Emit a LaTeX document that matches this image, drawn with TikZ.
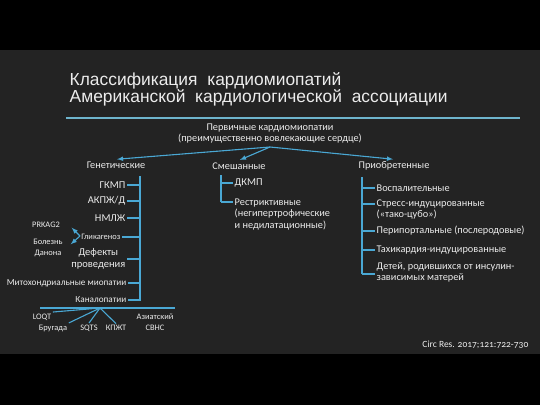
\documentclass[tikz,border=0pt]{standalone}
\usepackage{fontspec}
\setmainfont{Carlito}
\newfontfamily\titlefont{Liberation Sans}
\newfontfamily\citefont[Numbers=OldStyle]{Carlito}
\definecolor{board}{RGB}{35,35,35}
\definecolor{chalk}{RGB}{236,236,236}
\definecolor{chalkblue}{RGB}{74,168,212}
\definecolor{rule}{RGB}{110,180,205}

\begin{document}
\begin{tikzpicture}[x=1pt, y=-1pt,
    every node/.style={text=chalk, inner sep=1.5pt, font=\fontsize{10.3}{11}\selectfont},
    big/.style={font=\fontsize{10.5}{11.5}\selectfont},
    mid/.style={font=\fontsize{9.2}{10}\selectfont},
    small/.style={font=\fontsize{8.4}{10.5}\selectfont},
    group/.style={text height=7.5pt, text depth=2.5pt},
    br/.style={chalkblue, line width=1.1pt},
    arr/.style={chalkblue, line width=1.1pt, -latex, shorten >=1pt}]
    % board
    \fill[black] (0,0) rectangle (540,405);
    \fill[board] (0,50) rectangle (540,354);
    \useasboundingbox (0,0) rectangle (540,405);

    % title and rule
    \node[anchor=base west, font=\titlefont\fontsize{17.4}{20}\selectfont] (title1) at (68,85) {Классификация\ \ кардиомиопатий};
    \node[anchor=base west, font=\titlefont\fontsize{17.4}{20}\selectfont] (title2) at (68,102) {Американской\ \ кардиологической\ \ ассоциации};
    \draw[rule, line width=1.3pt] (66,118) -- (520,118);

    % root and the three groups
    \node[align=center] (prim) at (270,134) {Первичные кардиомиопатии\\(преимущественно вовлекающие сердце)};
    \coordinate (fork) at (270,147);
    \node[group] (gen) at (116,166) {Генетические};
    \node[group] (mix) at (239,167) {Смешанные};
    \node[group] (acq) at (394,166) {Приобретенные};
    \draw[arr] (fork) -- (gen.north);
    \draw[arr] (fork) -- (mix.north);
    \draw[arr] (fork) -- (acq.north);

    % genetic
    \coordinate (gtop) at (140,176);
    \coordinate (gbot) at (140,301);
    \draw[br] (gtop) -- (gbot);
    \node[big, anchor=east] (gkmp) at (127,185) {ГКМП};
    \node[big, anchor=east] (akpzh) at (127,201) {АКПЖ/Д};
    \node[big, anchor=east] (nmlzh) at (127,218) {НМЛЖ};
    \node[small, anchor=east] (glyc) at (122,237) {Гликагеноз};
    \node[big, anchor=east, align=center] (cond) at (127,259) {Дефекты\\проведения};
    \node[mid, anchor=east] (mito) at (128,283) {Митохондриальные миопатии};
    \node[mid, anchor=east] (kanal) at (128,300) {Каналопатии};
    \foreach \n in {gkmp,akpzh,nmlzh,glyc,cond,mito,kanal}
        \draw[br] (\n.east) -- (\n.east -| gtop);

    % glycogenoses
    \node[small] (prkag) at (46,225) {PRKAG2};
    \node[small, align=center] (danon) at (48,248) {Болезнь\\Данона};
    \coordinate (chev) at (80,236);
    \coordinate (tipup) at (71,227);
    \coordinate (tipdn) at (70,245);
    \draw[arr] (chev) -- (tipup);
    \draw[arr] (chev) -- (tipdn);

    % channelopathies
    \coordinate (kl) at (40,308);
    \coordinate (kr) at (175,308);
    \coordinate (kfan) at (100,308);
    \draw[br] (kl) -- (kr);
    \node[small] (loqt) at (42,317) {LOQT};
    \node[small] (brug) at (53,328) {Бругада};
    \node[small] (sqts) at (89,328) {SQTS};
    \node[small] (kpzht) at (116,328) {КПЖТ};
    \node[small, align=center] (svns) at (155,322) {Азиатский\\СВНС};
    \draw[br] (kfan) -- (loqt.north east);
    \draw[br] (kfan) -- (brug.north east);
    \draw[br] (kfan) -- (sqts.north);
    \draw[br] (kfan) -- (kpzht.north);

    % mixed
    \coordinate (mtop) at (221,175);
    \coordinate (mbot) at (221,202);
    \draw[br] (mtop) -- (mbot);
    \node[big, anchor=west] (dkmp) at (233,183) {ДКМП};
    \node[anchor=north west, align=left, font=\fontsize{10.3}{11.5}\selectfont] (restr) at (233,197) {Рестриктивные\\(негипертрофические\\и недилатационные)};
    \draw[br] (dkmp.west -| mtop) -- (dkmp.west);
    \draw[br] (mbot) -- (mbot -| restr.west);

    % acquired
    \coordinate (atop) at (362,177);
    \coordinate (abot) at (362,274);
    \draw[br] (atop) -- (abot);
    \node[anchor=west] (infl) at (375,188) {Воспалительные};
    \node[anchor=west, align=left] (stress) at (375,209) {Стресс-индуцированные\\(«тако-цубо»)};
    \node[anchor=west] (peri) at (375,231) {Перипортальные (послеродовые)};
    \node[anchor=west] (tachy) at (375,250) {Тахикардия-индуцированные};
    \node[anchor=west, align=left] (diab) at (375,272) {Детей, родившихся от инсулин-\\зависимых матерей};
    \coordinate (st) at ([yshift=5pt]stress.west);
    \foreach \n in {infl,peri,tachy}
        \draw[br] (\n.west -| atop) -- (\n.west);
    \draw[br] (st -| atop) -- (st);
    \draw[br] (abot) -- (abot -| diab.west);

    % source
    \node[anchor=base east, font=\citefont\fontsize{9.5}{10}\selectfont] (src) at (530,347) {Circ Res. 2017;121:722-730};
\end{tikzpicture}
\end{document}
